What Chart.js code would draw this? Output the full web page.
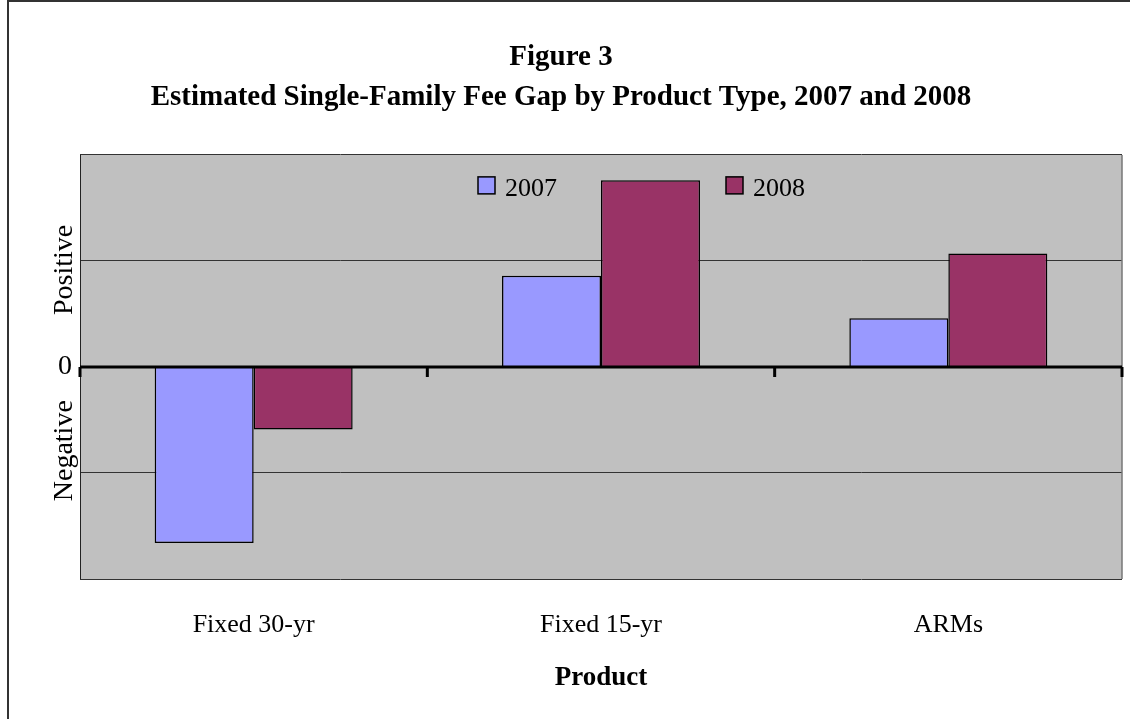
<!DOCTYPE html>
<html>
<head>
<meta charset="utf-8">
<title>Figure 3</title>
<script src="https://cdn.jsdelivr.net/npm/chart.js@4.4.1/dist/chart.umd.min.js"></script>
<style>
  html, body { margin: 0; padding: 0; background: #fff; }
  #wrap { width: 1130px; height: 719px; }
</style>
</head>
<body>
<div id="wrap"><canvas id="fee-gap-chart" width="1130" height="719"></canvas></div>
<script>
// values (units unknown, gridlines at +-1)
var products = ['Fixed 30-yr', 'Fixed 15-yr', 'ARMs'];
var seriesNames = ['2007', '2008'];
var gap2007 = [-1.66, 0.86, 0.46];
var gap2008 = [-0.59, 1.76, 1.07];
var yTickLabels = ['Negative', '0', 'Positive'];

var SERIF = '"Liberation Serif", "Times New Roman", serif';

// grey plot background, frame, thick zero line with ticks, legend, y labels
var figurePlugin = {
    id: 'figure',
    beforeDraw: function(chart) {
        var ctx = chart.ctx, a = chart.chartArea;
        ctx.save();
        ctx.fillStyle = '#c0c0c0';
        ctx.fillRect(a.left, a.top, a.right - a.left, a.bottom - a.top);
        // outer frame of the page
        ctx.strokeStyle = '#333';
        ctx.lineWidth = 2;
        ctx.beginPath();
        ctx.moveTo(8, 719);
        ctx.lineTo(8, 1);
        ctx.lineTo(1130, 1);
        ctx.stroke();
        ctx.restore();
    },
    afterDatasetsDraw: function(chart) {
        var ctx = chart.ctx, a = chart.chartArea;
        var y = chart.scales.y;
        ctx.save();
        // side borders
        ctx.lineWidth = 1;
        ctx.strokeStyle = '#222';
        ctx.beginPath();
        ctx.moveTo(a.left + 0.5, a.top);
        ctx.lineTo(a.left + 0.5, a.bottom);
        ctx.stroke();
        ctx.strokeStyle = '#777';
        ctx.lineWidth = 1.5;
        ctx.beginPath();
        ctx.moveTo(a.right, a.top);
        ctx.lineTo(a.right, a.bottom);
        ctx.stroke();

        // zero line
        var y0 = y.getPixelForValue(0);
        ctx.strokeStyle = '#000';
        ctx.lineWidth = 3;
        ctx.beginPath();
        ctx.moveTo(a.left, y0);
        ctx.lineTo(a.right, y0);
        ctx.stroke();
        // category boundary ticks
        var n = products.length;
        var step = (a.right - a.left) / n;
        ctx.beginPath();
        for (var i = 0; i <= n; i++) {
            var tx = a.left + step * i;
            ctx.moveTo(tx, y0);
            ctx.lineTo(tx, y0 + 10);
        }
        ctx.stroke();
        ctx.restore();
    },
    afterDraw: function(chart) {
        var ctx = chart.ctx, a = chart.chartArea;
        var y = chart.scales.y;
        ctx.save();
        ctx.fillStyle = '#000';
        ctx.font = '28px ' + SERIF;

        // "0"
        ctx.textAlign = 'right';
        ctx.textBaseline = 'middle';
        ctx.fillText(yTickLabels[1], a.left - 8, y.getPixelForValue(0));

        // rotated labels
        var rotated = [[yTickLabels[2], 0.915], [yTickLabels[0], -0.79]];
        rotated.forEach(function(r) {
            ctx.save();
            ctx.translate(a.left - 8, y.getPixelForValue(r[1]));
            ctx.rotate(-Math.PI / 2);
            ctx.textAlign = 'center';
            ctx.textBaseline = 'alphabetic';
            ctx.fillText(r[0], 0, 0);
            ctx.restore();
        });

        // legend inside the plot
        var legendX = [a.left + 398, a.left + 646];
        ctx.font = '26px ' + SERIF;
        ctx.textAlign = 'left';
        ctx.textBaseline = 'alphabetic';
        chart.data.datasets.forEach(function(ds, i) {
            var bx = legendX[i], by = a.top + 22;
            ctx.fillStyle = ds.backgroundColor;
            ctx.fillRect(bx, by, 17, 17);
            ctx.strokeStyle = '#000';
            ctx.lineWidth = 1.5;
            ctx.strokeRect(bx, by, 17, 17);
            ctx.fillStyle = '#000';
            ctx.fillText(ds.label, bx + 27, by + 19);
        });
        ctx.restore();
    }
};

var ctx = document.getElementById('fee-gap-chart').getContext('2d');
var chart = new Chart(ctx, {
    type: 'bar',
    data: {
        labels: products,
        datasets: [{
            label: seriesNames[0],
            data: gap2007,
            backgroundColor: '#9999ff',
            borderColor: '#000',
            borderWidth: 1.5
        }, {
            label: seriesNames[1],
            data: gap2008,
            backgroundColor: '#993366',
            borderColor: '#000',
            borderWidth: 1.5
        }]
    },
    options: {
        responsive: false,
        animation: false,
        devicePixelRatio: 1,
        layout: { padding: { left: 0, right: 8, top: 0, bottom: 0 } },
        datasets: {
            bar: { categoryPercentage: 0.57, barPercentage: 1.0 }
        },
        plugins: {
            legend: { display: false },
            tooltip: { enabled: false },
            title: {
                display: true,
                text: ['Figure 3', 'Estimated Single-Family Fee Gap by Product Type, 2007 and 2008'],
                color: '#000',
                font: { family: SERIF, size: 29, weight: 'bold', lineHeight: 1.36 },
                padding: { top: 38, bottom: 38 }
            }
        },
        scales: {
            x: {
                grid: { display: false, drawTicks: false },
                border: { display: false },
                ticks: {
                    color: '#000',
                    padding: 31,
                    font: { family: SERIF, size: 26 }
                },
                title: {
                    display: true,
                    text: 'Product',
                    color: '#000',
                    font: { family: SERIF, size: 27, weight: 'bold' },
                    padding: { top: 0, bottom: 25 }
                },
                afterFit: function(scale) { scale.height = 140; }
            },
            y: {
                min: -2,
                max: 2,
                grid: { color: '#333', lineWidth: 1, drawTicks: false },
                border: { display: false },
                ticks: { display: false, stepSize: 1 },
                afterFit: function(scale) { scale.width = 80; }
            }
        }
    },
    plugins: [figurePlugin]
});
</script>
</body>
</html>
